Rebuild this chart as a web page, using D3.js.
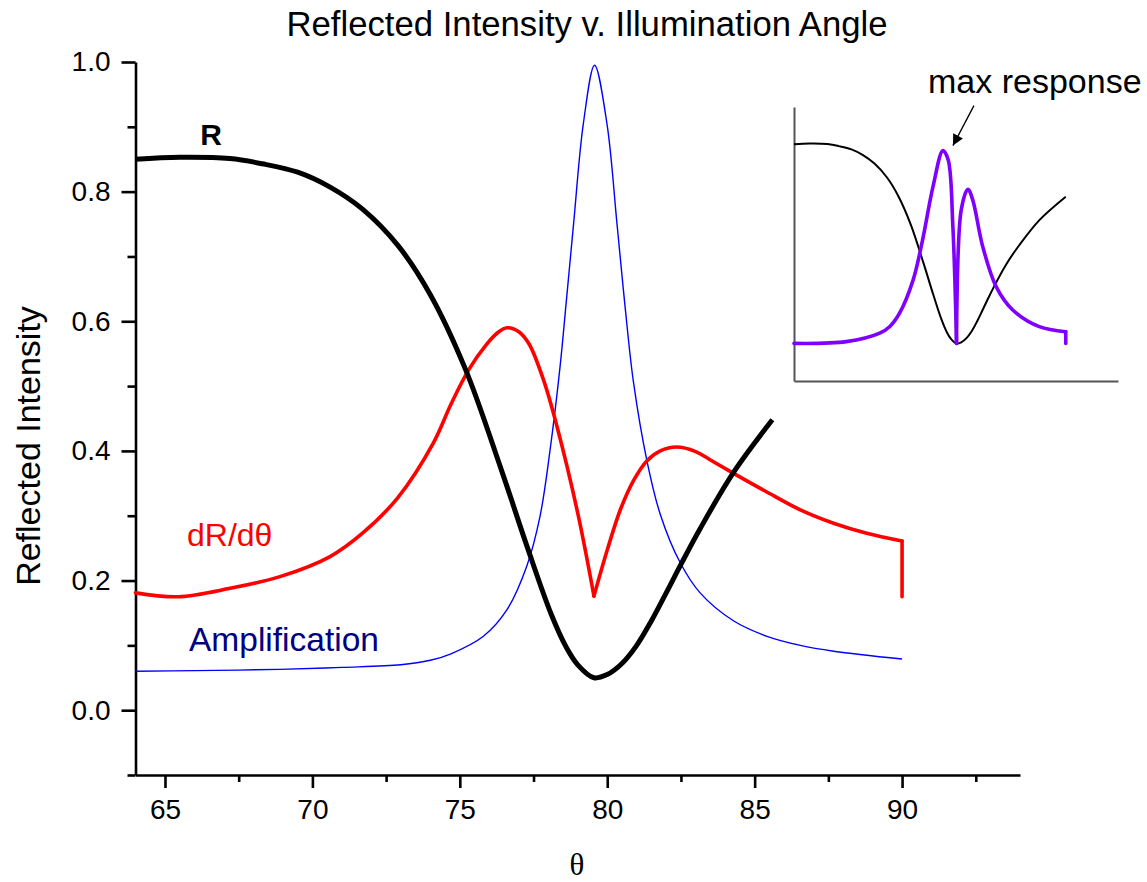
<!DOCTYPE html>
<html>
<head>
<meta charset="utf-8">
<script src="https://cdn.jsdelivr.net/npm/d3@7"></script>
<style>
  body { margin: 0; background: #fff; }
  svg { font-family: "Liberation Sans", Arial, sans-serif; }
  .axis path, .axis line { stroke: #000; stroke-width: 2.6; }
  .axis text { font-size: 28px; fill: #000; font-family: "Liberation Sans", Arial, sans-serif; }
  .inset-axis path { stroke: #555; stroke-width: 2; }
</style>
</head>
<body>
<svg id="chart"></svg>
<script>
// reflectance R vs angle (the big chart stops at rCutoff, the inset shows all of it)
const rTheta  = [64.0, 65.5, 67.2, 68.3, 69.5, 70.6, 71.7, 72.9, 74.0, 75.2, 76.4, 77.3, 78.1, 78.6, 79.0, 79.55, 80.0, 80.5, 81.0, 81.5, 82.0, 82.5, 83.15, 84.3, 85.6, 87.5, 90.0];
const rValues = [0.850, 0.853, 0.851, 0.843, 0.830, 0.807, 0.773, 0.717, 0.641, 0.525, 0.372, 0.250, 0.148, 0.098, 0.070, 0.050, 0.055, 0.072, 0.100, 0.138, 0.181, 0.225, 0.280, 0.368, 0.448, 0.547, 0.640];
const rCutoff = 85.6;

// dR/dtheta (red)
const dTheta  = [64.0, 65.45, 67.2, 68.9, 70.6, 71.7, 72.9, 74.1, 74.7, 75.3, 75.9, 76.3, 76.6, 77.0, 77.35, 77.85, 78.3, 79.0, 79.55, 80.0, 80.45, 80.9, 81.35, 81.8, 82.35, 83.0, 83.5, 84.3, 85.4, 86.55, 87.7, 88.8, 90.0, 90.0];
const dValues = [0.181, 0.175, 0.188, 0.206, 0.237, 0.273, 0.328, 0.412, 0.472, 0.525, 0.564, 0.583, 0.590, 0.584, 0.565, 0.508, 0.437, 0.304, 0.176, 0.247, 0.310, 0.355, 0.385, 0.400, 0.406, 0.399, 0.386, 0.365, 0.337, 0.309, 0.288, 0.273, 0.261, 0.175];
const cusp = 79.55;

// amplification (blue)
const ampTheta  = [64.0, 66.0, 68.9, 71.0, 73.0, 74.0, 74.7, 75.8, 76.6, 77.27, 77.72, 78.06, 78.4, 78.6, 78.86, 79.19, 79.57, 79.99, 80.33, 80.6, 80.89, 81.35, 81.8, 82.48, 83.15, 84.28, 85.42, 86.55, 87.68, 90.0];
const ampValues = [0.060, 0.061, 0.063, 0.066, 0.070, 0.077, 0.087, 0.114, 0.155, 0.222, 0.299, 0.401, 0.530, 0.625, 0.751, 0.905, 0.995, 0.905, 0.751, 0.625, 0.506, 0.384, 0.302, 0.227, 0.181, 0.138, 0.114, 0.100, 0.091, 0.079];

// inset response curve (purple)
const respTheta  = [64.0, 69.0, 72.2, 73.2, 74.1, 75.4, 76.3, 77.3, 78.25, 78.75, 79.2, 79.55, 80.0, 80.64, 81.1, 82.06, 83.34, 84.93, 87.47, 90.0, 90.0];
const respValues = [0.051, 0.058, 0.092, 0.120, 0.172, 0.306, 0.466, 0.680, 0.825, 0.788, 0.520, 0.051, 0.587, 0.670, 0.627, 0.439, 0.279, 0.185, 0.118, 0.098, 0.051];

const xMajor = [65, 70, 75, 80, 85, 90];
const xMinor = [67.5, 72.5, 77.5, 82.5, 87.5, 92.5];
const yMajor = [0.0, 0.2, 0.4, 0.6, 0.8, 1.0];
const yMinor = [-0.1, 0.1, 0.3, 0.5, 0.7, 0.9];

const toPoints = (t, v) => d3.zip(t, v).map(([theta, value]) => ({theta, value}));
const rData = toPoints(rTheta, rValues);
const dData = toPoints(dTheta, dValues);
const ampData = toPoints(ampTheta, ampValues);
const respData = toPoints(respTheta, respValues);

// cut a series where it has a cusp or drops straight down, so the spline keeps those corners
function pieces(data) {
  const n = data.length;
  const breaks = [0];
  data.forEach((d, i) => {
    if (i > 0 && i < n - 1 && (d.theta === cusp || data[i + 1].theta === d.theta)) breaks.push(i);
  });
  breaks.push(n - 1);
  return breaks.slice(1).map((b, k) => data.slice(breaks[k], b + 1));
}

const width = 1147, height = 882;
const svg = d3.select('#chart')
    .attr('width', width)
    .attr('height', height);

// main scales
const x = d3.scaleLinear().domain([64, 94]).range([135.5, 1020]);
const y = d3.scaleLinear().domain([-0.1, 1.0]).range([775, 62]);

const line = d3.line()
    .x(d => x(d.theta))
    .y(d => y(d.value))
    .curve(d3.curveCatmullRom.alpha(0.5));

// axes
svg.append('g')
    .attr('class', 'axis x-axis')
    .attr('transform', `translate(0,${y(-0.1)})`)
    .call(d3.axisBottom(x).tickValues(xMajor).tickSize(13).tickSizeOuter(0).tickPadding(11).tickFormat(d3.format('d')));
svg.append('g')
    .attr('class', 'axis x-axis')
    .attr('transform', `translate(0,${y(-0.1)})`)
    .call(d3.axisBottom(x).tickValues(xMinor).tickSize(7).tickSizeOuter(0).tickFormat(''))
    .select('.domain').remove();

svg.append('g')
    .attr('class', 'axis y-axis')
    .attr('transform', `translate(${x(64)},0)`)
    .call(d3.axisLeft(y).tickValues(yMajor).tickSize(14).tickSizeOuter(0).tickPadding(11).tickFormat(d3.format('.1f')));
svg.append('g')
    .attr('class', 'axis y-axis')
    .attr('transform', `translate(${x(64)},0)`)
    .call(d3.axisLeft(y).tickValues(yMinor).tickSize(8).tickSizeOuter(0).tickFormat(''))
    .select('.domain').remove();

// curves
const marks = svg.append('g');

marks.append('path')
    .datum(ampData)
    .attr('fill', 'none')
    .attr('stroke', '#0000ff')
    .attr('stroke-width', 1.4)
    .attr('d', line);

pieces(dData).forEach(seg => {
  marks.append('path')
      .datum(seg)
      .attr('fill', 'none')
      .attr('stroke', '#ff0000')
      .attr('stroke-width', 3.6)
      .attr('stroke-linecap', 'round')
      .attr('stroke-linejoin', 'round')
      .attr('d', line);
});

marks.append('path')
    .datum(rData.filter(d => d.theta <= rCutoff))
    .attr('fill', 'none')
    .attr('stroke', '#000')
    .attr('stroke-width', 5)
    .attr('d', line);

// labels
svg.append('text')
    .attr('x', 587).attr('y', 36)
    .attr('text-anchor', 'middle')
    .style('font-size', '34.7px')
    .text('Reflected Intensity v. Illumination Angle');

svg.append('text')
    .attr('transform', 'translate(40,446) rotate(-90)')
    .attr('text-anchor', 'middle')
    .style('font-size', '34px')
    .text('Reflected Intensity');

svg.append('text')
    .attr('x', 577).attr('y', 875)
    .attr('text-anchor', 'middle')
    .style('font-family', '"Liberation Serif", "Times New Roman", serif')
    .style('font-size', '31px')
    .text('θ');

svg.append('text')
    .attr('x', 211).attr('y', 145)
    .attr('text-anchor', 'middle')
    .style('font-size', '30px')
    .style('font-weight', 'bold')
    .text('R');

svg.append('text')
    .attr('x', 187).attr('y', 546)
    .attr('fill', '#ff0000')
    .style('font-size', '32px')
    .text('dR/dθ');

svg.append('text')
    .attr('x', 189).attr('y', 651)
    .attr('fill', '#000080')
    .style('font-size', '33.5px')
    .text('Amplification');

// inset
const ix = d3.scaleLinear().domain([64, 95]).range([794, 1118]);
const iy = d3.scaleLinear().domain([-0.1, 1.0]).range([381, 107]);

const insetLine = d3.line()
    .x(d => ix(d.theta))
    .y(d => iy(d.value))
    .curve(d3.curveCatmullRom.alpha(0.5));

const inset = svg.append('g');

inset.append('g')
    .attr('class', 'inset-axis')
    .attr('transform', `translate(0,${iy(-0.1)})`)
    .call(d3.axisBottom(ix).tickValues([]).tickSizeOuter(0));
inset.append('g')
    .attr('class', 'inset-axis')
    .attr('transform', `translate(${ix(64)},0)`)
    .call(d3.axisLeft(iy).tickValues([]).tickSizeOuter(0));

inset.append('path')
    .datum(rData)
    .attr('fill', 'none')
    .attr('stroke', '#000')
    .attr('stroke-width', 2)
    .attr('d', insetLine);

pieces(respData).forEach(seg => {
  inset.append('path')
      .datum(seg)
      .attr('fill', 'none')
      .attr('stroke', '#8000ff')
      .attr('stroke-width', 3.6)
      .attr('stroke-linecap', 'round')
      .attr('stroke-linejoin', 'round')
      .attr('d', insetLine);
});

// arrow pointing at the largest response
svg.append('defs').append('marker')
    .attr('id', 'arrow')
    .attr('viewBox', '0 0 10 10')
    .attr('refX', 10).attr('refY', 5)
    .attr('markerWidth', 14).attr('markerHeight', 11)
    .attr('markerUnits', 'userSpaceOnUse')
    .attr('orient', 'auto')
  .append('path')
    .attr('d', 'M0,0 L10,5 L0,10 z')
    .attr('fill', '#000');

const peak = respData.reduce((a, b) => (b.value > a.value ? b : a));
const tipX = ix(peak.theta) + 10, tipY = iy(peak.value) - 5;
svg.append('line')
    .attr('x1', tipX + 21).attr('y1', tipY - 40)
    .attr('x2', tipX).attr('y2', tipY)
    .attr('stroke', '#000')
    .attr('stroke-width', 1.3)
    .attr('marker-end', 'url(#arrow)');

svg.append('text')
    .attr('x', 928).attr('y', 93)
    .style('font-size', '34px')
    .text('max response');
</script>
</body>
</html>
